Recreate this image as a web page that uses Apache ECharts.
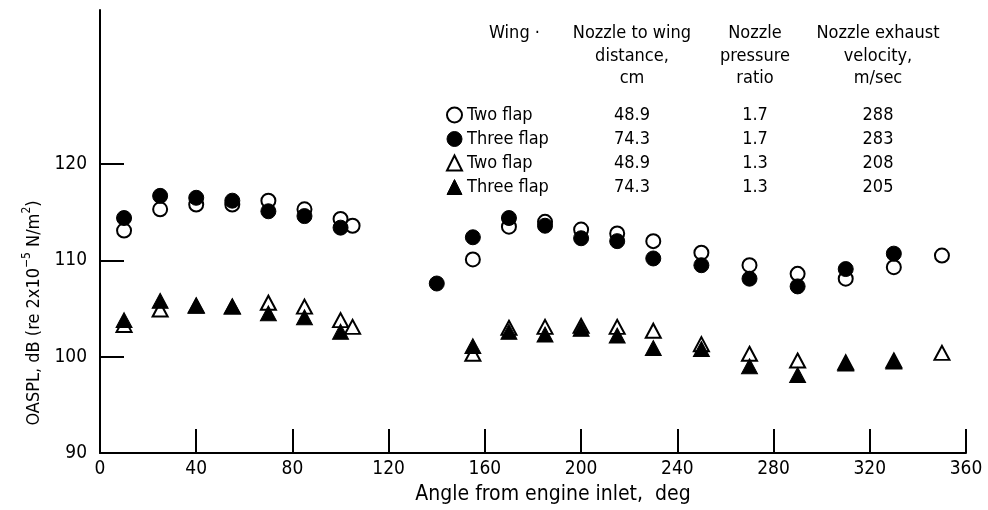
<!DOCTYPE html>
<html>
<head>
<meta charset="utf-8">
<script src="https://cdn.jsdelivr.net/npm/echarts@6/dist/echarts.min.js"></script>
<style>
html,body{margin:0;padding:0;background:#fff;}
#chart{width:988px;height:510px;}
</style>
</head>
<body>
<div id="chart"></div>
<script>
// ---- data ----
var xTicks = [0, 40, 80, 120, 160, 200, 240, 280, 320, 360];
var yTicks = [90, 100, 110, 120];

var twoFlap17 = [[10,113.1],[25,115.3],[40,115.8],[55,115.8],[70,116.2],[85,115.3],[100,114.3],[105,113.6],
  [155,110.1],[170,113.5],[185,114.0],[200,113.2],[215,112.8],[230,112.0],[250,110.8],[270,109.5],[290,108.6],
  [310,108.1],[330,109.3],[350,110.5]];
var threeFlap17 = [[10,114.4],[25,116.7],[40,116.5],[55,116.2],[70,115.1],[85,114.6],[100,113.4],
  [140,107.6],[155,112.4],[170,114.4],[185,113.6],[200,112.3],[215,112.0],[230,110.2],[250,109.5],[270,108.1],
  [290,107.3],[310,109.1],[330,110.7]];
var twoFlap13 = [[10,103.3],[25,104.9],[40,105.3],[55,105.2],[70,105.6],[85,105.2],[100,103.8],[105,103.1],
  [155,100.3],[170,103.0],[185,103.1],[200,103.2],[215,103.1],[230,102.7],[250,101.3],[270,100.3],[290,99.6],
  [310,99.4],[330,99.6],[350,100.4]];
var threeFlap13 = [[10,103.8],[25,105.8],[40,105.3],[55,105.2],[70,104.5],[85,104.1],[100,102.6],
  [155,101.1],[170,102.6],[185,102.3],[200,102.9],[215,102.2],[230,100.9],[250,100.8],[270,99.0],[290,98.1],
  [310,99.3],[330,99.5]];

var wingLabels = ['Two flap', 'Three flap', 'Two flap', 'Three flap'];
var distances = ['48.9', '74.3', '48.9', '74.3'];
var pressureRatios = ['1.7', '1.7', '1.3', '1.3'];
var velocities = ['288', '283', '208', '205'];
var seriesIds = ['Two flap 1.7', 'Three flap 1.7', 'Two flap 1.3', 'Three flap 1.3'];

// ---- styles ----
var WORD_FONT = '"DejaVu Sans Condensed", "DejaVu Sans", sans-serif';
var NUM_FONT = '"DejaVu Sans Condensed", "DejaVu Sans", sans-serif';
var openStyle = {color: '#fff', borderColor: '#000', borderWidth: 2, opacity: 1};
var fillStyle = {color: '#000', borderColor: '#000', borderWidth: 1, opacity: 1};

var chart = echarts.init(document.getElementById('chart'), null, {renderer: 'canvas'});

var rowY = [115, 139, 163, 187];
var colDist = 632, colPress = 755, colVel = 878;

var graphics = [];
function txt(x, y, s, align, size) {
  graphics.push({
    type: 'text', x: x, y: y, silent: true,
    style: {text: s, fill: '#000', font: (size || 18) + 'px ' + WORD_FONT,
      align: align || 'center', textAlign: align || 'center',
      verticalAlign: 'middle', textVerticalAlign: 'middle'}
  });
}
// headers
txt(489, 33, 'Wing ·', 'left');
txt(colDist, 33, 'Nozzle to wing');
txt(colDist, 56, 'distance,');
txt(colDist, 78, 'cm');
txt(colPress, 33, 'Nozzle');
txt(colPress, 56, 'pressure');
txt(colPress, 78, 'ratio');
txt(colVel, 33, 'Nozzle exhaust');
txt(colVel, 56, 'velocity,');
txt(colVel, 78, 'm/sec');
for (var i = 0; i < 4; i++) {
  txt(colDist, rowY[i], distances[i]);
  txt(colPress, rowY[i], pressureRatios[i]);
  txt(colVel, rowY[i], velocities[i]);
}
// y axis title (rotated, with superscripts)
graphics.push({
  type: 'text', x: 32, y: 313, rotation: Math.PI / 2, silent: true,
  style: {
    text: '{a|OASPL, dB (re 2x10}{s|−5}{a| N/m}{s|2}{a|)}',
    align: 'center', textAlign: 'center', verticalAlign: 'middle', textVerticalAlign: 'middle',
    rich: {
      a: {fontFamily: WORD_FONT, fontSize: 18, fill: '#000', color: '#000', lineHeight: 22, verticalAlign: 'bottom'},
      s: {fontFamily: WORD_FONT, fontSize: 12, fill: '#000', color: '#000', lineHeight: 22, verticalAlign: 'top'}
    }
  }
});

var option = {
  backgroundColor: '#fff',
  animation: false,
  grid: {left: 100, right: 22, top: 10, bottom: 52, containLabel: false},
  xAxis: {
    type: 'value', min: 0, max: 360, interval: 40,
    name: 'Angle from engine inlet,  deg', nameLocation: 'middle', nameGap: 31,
    nameTextStyle: {fontFamily: WORD_FONT, fontSize: 21, color: '#000', padding: [0, 0, 0, 40]},
    axisLine: {show: true, onZero: false, lineStyle: {color: '#000', width: 2}},
    axisTick: {show: true, inside: true, length: 24, lineStyle: {color: '#000', width: 2}},
    axisLabel: {show: true, margin: 7, fontFamily: NUM_FONT, fontSize: 19, color: '#000',
      customValues: xTicks},
    splitLine: {show: false}
  },
  yAxis: {
    type: 'value', min: 90, max: 136, interval: 10,
    axisLine: {show: true, onZero: false, lineStyle: {color: '#000', width: 2}},
    axisTick: {show: true, inside: true, length: 24, lineStyle: {color: '#000', width: 2},
      customValues: yTicks},
    axisLabel: {show: true, margin: 13, fontFamily: NUM_FONT, fontSize: 19, color: '#000',
      customValues: yTicks},
    splitLine: {show: false}
  },
  legend: {
    orient: 'vertical', left: 441, top: 101,
    itemWidth: 15, itemHeight: 15, itemGap: 6,
    selectedMode: false,
    textStyle: {fontFamily: WORD_FONT, fontSize: 18, color: '#000'},
    formatter: function (name) { return wingLabels[seriesIds.indexOf(name)]; },
    data: [
      {name: seriesIds[0], icon: 'circle', itemStyle: openStyle},
      {name: seriesIds[1], icon: 'circle', itemStyle: fillStyle},
      {name: seriesIds[2], icon: 'triangle', itemStyle: openStyle},
      {name: seriesIds[3], icon: 'triangle', itemStyle: fillStyle}
    ]
  },
  graphic: graphics,
  series: [
    {name: seriesIds[0], type: 'scatter', symbol: 'circle', symbolSize: 14, data: twoFlap17, itemStyle: openStyle, z: 2},
    {name: seriesIds[1], type: 'scatter', symbol: 'circle', symbolSize: 15, data: threeFlap17, itemStyle: fillStyle, z: 3},
    {name: seriesIds[2], type: 'scatter', symbol: 'triangle', symbolSize: [15, 14], data: twoFlap13, itemStyle: openStyle, z: 2},
    {name: seriesIds[3], type: 'scatter', symbol: 'triangle', symbolSize: [16, 15], data: threeFlap13, itemStyle: fillStyle, z: 3}
  ]
};
chart.setOption(option);
</script>
</body>
</html>
